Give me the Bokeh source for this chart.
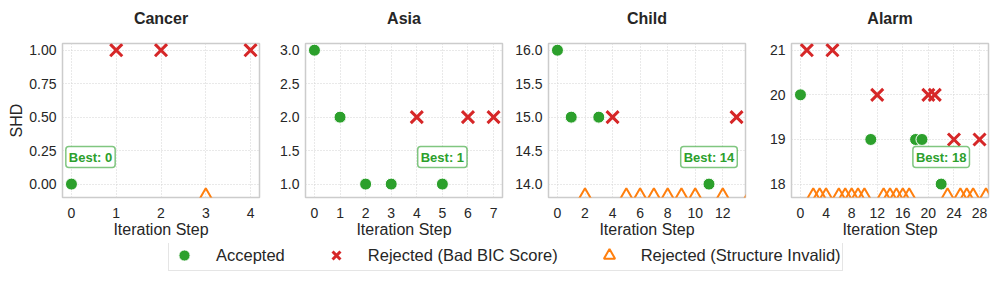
from bokeh.plotting import figure
from bokeh.layouts import row, column
from bokeh.models import Range1d, FixedTicker, Label, Legend, LegendItem
from bokeh.embed import file_html
from bokeh.resources import INLINE

# ---------------- data ----------------
names = ["Cancer", "Asia", "Child", "Alarm"]

cancer_acc_x = [0]
cancer_acc_y = [0]
cancer_bic_x = [1, 2, 4]
cancer_bic_y = [1, 1, 1]
cancer_inv_x = [3]

asia_acc_x = [0, 1, 2, 3, 5]
asia_acc_y = [3, 2, 1, 1, 1]
asia_bic_x = [4, 6, 7]
asia_bic_y = [2, 2, 2]
asia_inv_x = []

child_acc_x = [0, 1, 3, 11]
child_acc_y = [16, 15, 15, 14]
child_bic_x = [4, 13]
child_bic_y = [15, 15]
child_inv_x = [2, 5, 6, 7, 8, 9, 10, 12, 14]

alarm_acc_x = [0, 11, 18, 19, 22]
alarm_acc_y = [20, 19, 19, 19, 18]
alarm_bic_x = [1, 5, 12, 20, 21, 24, 28]
alarm_bic_y = [21, 21, 20, 20, 20, 19, 19]
alarm_inv_x = [2, 3, 4, 6, 7, 8, 9, 10, 13, 14, 15, 16, 17, 23, 25, 26, 27, 29]

cancer_y_ticks = [0, 0.25, 0.5, 0.75, 1.0]
cancer_y_labels = ["0.00", "0.25", "0.50", "0.75", "1.00"]
asia_y_ticks = [1.0, 1.5, 2.0, 2.5, 3.0]
asia_y_labels = ["1.0", "1.5", "2.0", "2.5", "3.0"]
child_y_ticks = [14.0, 14.5, 15.0, 15.5, 16.0]
child_y_labels = ["14.0", "14.5", "15.0", "15.5", "16.0"]
alarm_y_ticks = [18, 19, 20, 21]
alarm_y_labels = ["18", "19", "20", "21"]

cancer_x_ticks = [0, 1, 2, 3, 4]
asia_x_ticks = [0, 1, 2, 3, 4, 5, 6, 7]
child_x_ticks = [0, 2, 4, 6, 8, 10, 12]
alarm_x_ticks = [0, 4, 8, 12, 16, 20, 24, 28]

legend_labels = ["Accepted", "Rejected (Bad BIC Score)", "Rejected (Structure Invalid)"]

# ---------------- style ----------------
GREEN = "#2ca02c"
RED = "#d62728"
ORANGE = "#ff7f0e"
TXT = "#262626"
FONT = "Liberation Sans"

panels = [
    (cancer_acc_x, cancer_acc_y, cancer_bic_x, cancer_bic_y, cancer_inv_x,
     cancer_x_ticks, cancer_y_ticks, cancer_y_labels),
    (asia_acc_x, asia_acc_y, asia_bic_x, asia_bic_y, asia_inv_x,
     asia_x_ticks, asia_y_ticks, asia_y_labels),
    (child_acc_x, child_acc_y, child_bic_x, child_bic_y, child_inv_x,
     child_x_ticks, child_y_ticks, child_y_labels),
    (alarm_acc_x, alarm_acc_y, alarm_bic_x, alarm_bic_y, alarm_inv_x,
     alarm_x_ticks, alarm_y_ticks, alarm_y_labels),
]

FRAME_W = 197
widths = [263, 243, 243, 241]
lefts = [62, 42, 42, 42]
rights = [4, 4, 4, 2]

figs = []
for i, (name, pd_) in enumerate(zip(names, panels)):
    ax, ay, bx, by, ix, xt, yt, yl = pd_
    xmax = max(ax + bx)
    xpad = 0.05 * xmax
    x0, x1 = -xpad, xmax + xpad
    ymin = min(ay + by)
    ymax = max(ay + by)
    yr = ymax - ymin
    lo, hi = ymin - 0.1 * yr, ymax + 0.05 * yr

    p = figure(width=widths[i], height=243, output_backend="svg", toolbar_location=None,
               x_range=Range1d(x0, x1), y_range=Range1d(lo, hi),
               min_border_left=lefts[i], min_border_right=rights[i],
               min_border_top=43, min_border_bottom=46)
    # trailing empty line lifts the title higher above the frame
    p.title.text = name + "\n"
    p.title.align = "center"
    p.title.text_font = FONT
    p.title.text_font_size = "16px"
    p.title.text_font_style = "bold"
    p.title.text_color = TXT
    p.title.standoff = 0

    p.outline_line_color = "#cccccc"
    p.outline_line_width = 1.5
    p.background_fill_color = "white"
    p.border_fill_color = "white"

    for axis in (p.xaxis, p.yaxis):
        axis.axis_line_color = None
        axis.major_tick_line_color = None
        axis.minor_tick_line_color = None
        axis.major_label_text_font = FONT
        axis.major_label_text_font_size = "14px"
        axis.major_label_text_color = TXT
        axis.axis_label_text_font = FONT
        axis.axis_label_text_font_size = "16px"
        axis.axis_label_text_font_style = "normal"
        axis.axis_label_text_color = TXT
    p.xaxis.ticker = FixedTicker(ticks=xt)
    p.yaxis.ticker = FixedTicker(ticks=yt)
    p.yaxis.major_label_overrides = {t: s for t, s in zip(yt, yl)}
    p.xaxis.major_label_standoff = 4
    p.yaxis.major_label_standoff = 0
    p.xaxis.axis_label = "Iteration Step"
    p.xaxis.axis_label_standoff = 0
    if i == 0:
        p.yaxis.axis_label = "SHD"
        p.yaxis.axis_label_standoff = 1

    p.grid.grid_line_color = "#d2d2d2"
    p.grid.grid_line_dash = "1 2"
    p.grid.grid_line_width = 1

    p.scatter(x=ax, y=ay, marker="circle", size=12, fill_color=GREEN,
              line_color="white", line_width=1)
    p.scatter(x=bx, y=by, marker="x", size=17, line_color=RED, line_width=3)
    if ix:
        p.scatter(x=ix, y=[lo] * len(ix), marker="triangle", size=16,
                  fill_alpha=0, line_color=ORANGE, line_width=2)

    # best label (kept inside the frame, since Bokeh clips centre annotations)
    best = min(ay)
    best_step = max(s for s, v in zip(ax, ay) if v == best)
    px_from_left = (best_step - x0) / (x1 - x0) * FRAME_W
    shift = max(0, 28 - px_from_left)
    lab = Label(x=best_step, y=best, x_offset=shift, y_offset=27, text=f"Best: {best}",
                text_align="center", text_baseline="middle",
                text_font=FONT, text_font_size="13px", text_font_style="bold",
                text_color=GREEN, background_fill_color="white",
                background_fill_alpha=0.9, border_line_color=GREEN,
                border_line_alpha=0.6, border_line_width=1.5,
                padding=3, border_radius=3)
    p.add_layout(lab)
    figs.append(p)

# ---------------- legend (proxy glyphs sit outside the visible range) ----------------
lf = figure(width=990, height=34, output_backend="svg", toolbar_location=None,
            x_range=Range1d(0, 1), y_range=Range1d(0, 1),
            min_border=0, outline_line_color=None)
lf.axis.visible = False
lf.grid.visible = False
r1 = lf.scatter(x=[-5], y=[-5], marker="circle", size=12, fill_color=GREEN,
                line_color="white", line_width=1)
r2 = lf.scatter(x=[-5], y=[-5], marker="x", size=14, line_color=RED, line_width=3)
r3 = lf.scatter(x=[-5], y=[-5], marker="triangle", size=16, fill_alpha=0,
                line_color=ORANGE, line_width=2)
leg = Legend(items=[LegendItem(label=legend_labels[0], renderers=[r1]),
                    LegendItem(label=legend_labels[1], renderers=[r2]),
                    LegendItem(label=legend_labels[2], renderers=[r3])],
             orientation="horizontal", location=(168, 6),
             glyph_width=28, glyph_height=28, label_standoff=18, spacing=37,
             padding=1, margin=0, border_line_color="#cccccc", border_line_width=1.5,
             label_text_font=FONT, label_text_font_size="16.5px",
             label_text_color=TXT, background_fill_color="white",
             background_fill_alpha=1)
lf.add_layout(leg, "center")

layout = column(row(*figs), lf)
open("out.html", "w").write(file_html(layout, INLINE))
